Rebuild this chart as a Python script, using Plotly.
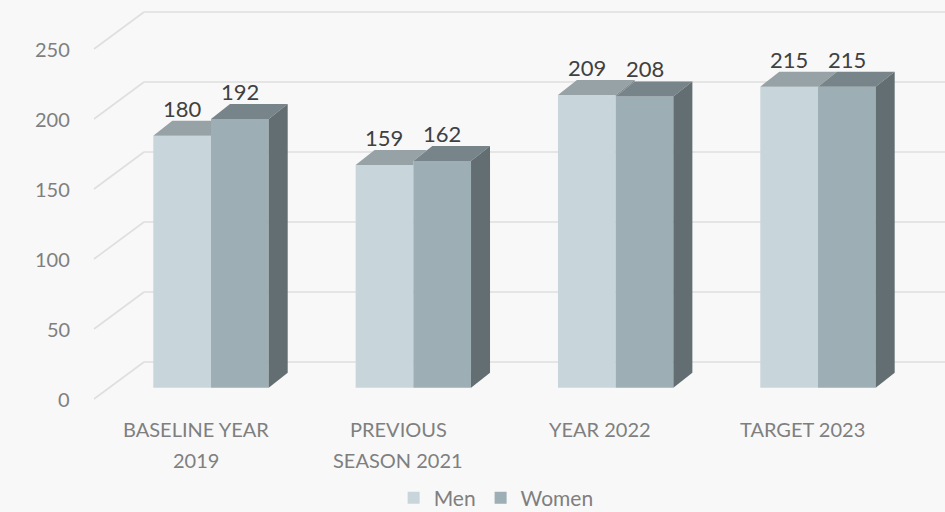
import plotly.graph_objects as go

# ---------------- data ----------------
categories = ["BASELINE YEAR<br>2019", "PREVIOUS<br>SEASON 2021", "YEAR 2022", "TARGET 2023"]
series_names = ["Men", "Women"]
men = [180, 159, 209, 215]
women = [192, 162, 208, 215]
y_ticks = [0, 50, 100, 150, 200, 250]

# ---------------- geometry / style ----------------
W, H = 945, 512
CAT_PX = 202.33      # pixels per category step
UNIT_PX = 1.4        # pixels per value unit
X0_PX = 211.0        # pixel x of category 0 (front-face centre)
Y0_PX = 387.7        # pixel y of value 0 (front face baseline)


def px_to_x(px):
    return (px - X0_PX) / CAT_PX


def py_to_y(py):
    return (Y0_PX - py) / UNIT_PX


BAR_W = 57.7 / CAT_PX
DX = 19.0 / CAT_PX
DY = 15.0 / UNIT_PX

BG = "#f8f8f8"
GRID = "#dfdfdf"
MEN_FRONT, MEN_TOP, MEN_SIDE = "#c8d6dc", "#97a2a6", "#7d888c"
WOM_FRONT, WOM_TOP, WOM_SIDE = "#9daeb4", "#778489", "#636e72"
AXIS_TXT = "#7f7f7f"
LABEL_TXT = "#404040"
FONT = "Lato"

x_idx = list(range(len(categories)))

fig = go.Figure()

# front faces as real bars
fig.add_trace(go.Bar(x=x_idx, y=men, name=series_names[0], width=BAR_W, offset=-BAR_W,
                     marker=dict(color=MEN_FRONT, line=dict(width=0)), hoverinfo="y+name"))
fig.add_trace(go.Bar(x=x_idx, y=women, name=series_names[1], width=BAR_W, offset=0,
                     marker=dict(color=WOM_FRONT, line=dict(width=0)), hoverinfo="y+name"))


def poly(xs, ys, color):
    fig.add_trace(go.Scatter(x=xs + [xs[0]], y=ys + [ys[0]], mode="lines", fill="toself",
                             fillcolor=color, line=dict(width=0, color=color),
                             showlegend=False, hoverinfo="skip"))


for i, (m, w) in enumerate(zip(men, women)):
    L, M, R = i - BAR_W, i, i + BAR_W
    # Men top face (clipped where the Women bar hides it)
    if w >= m + DY:
        poly([L, M, M, L + DX], [m, m, m + DY, m + DY], MEN_TOP)
    elif w > m:
        xi = M + DX * (m + DY - w) / DY
        poly([L, M, M, xi, L + DX], [m, m, w, m + DY, m + DY], MEN_TOP)
    else:
        poly([L, M, M + DX, L + DX], [m, m, m + DY, m + DY], MEN_TOP)
        if m > w:
            poly([M, M, M + DX, M + DX], [w, m, m + DY, w + DY], MEN_SIDE)
    # Women top + side
    poly([M, R, R + DX, M + DX], [w, w, w + DY, w + DY], WOM_TOP)
    poly([R, R, R + DX, R + DX], [0, w, w + DY, DY], WOM_SIDE)

annotations = []
shapes = []

# wall gridlines + value-axis labels
gx_front, gx_back = px_to_x(94), px_to_x(144)
gy_front, gy_back = py_to_y(399), py_to_y(362)
x_end = px_to_x(W) + 0.2
for v in y_ticks:
    shapes.append(dict(type="line", x0=gx_front, y0=gy_front + v, x1=gx_back, y1=gy_back + v,
                       line=dict(color=GRID, width=1.6), layer="below"))
    shapes.append(dict(type="line", x0=gx_back, y0=gy_back + v, x1=x_end, y1=gy_back + v,
                       line=dict(color=GRID, width=1.6), layer="below"))
    annotations.append(dict(x=px_to_x(72), y=gy_front + v, text=str(v), showarrow=False,
                            xanchor="right", yanchor="middle",
                            font=dict(family=FONT, size=20, color=AXIS_TXT)))

# category labels (one annotation per line)
cat_dx = 15.3 / CAT_PX
for i, c in enumerate(categories):
    for k, line in enumerate(c.split("<br>")):
        annotations.append(dict(x=i - cat_dx, y=py_to_y(429 + 31 * k), text=line, showarrow=False,
                                xanchor="center", yanchor="middle",
                                font=dict(family=FONT, size=20, color=AXIS_TXT)))

# data labels
lab_dy = DY + 9.0
for i, (m, w) in enumerate(zip(men, women)):
    annotations.append(dict(x=i - BAR_W / 2, y=m + lab_dy, text=str(m), showarrow=False,
                            xanchor="center", yanchor="middle",
                            font=dict(family=FONT, size=22, color=LABEL_TXT)))
    annotations.append(dict(x=i + BAR_W / 2, y=w + lab_dy, text=str(w), showarrow=False,
                            xanchor="center", yanchor="middle",
                            font=dict(family=FONT, size=22, color=LABEL_TXT)))

fig.update_layout(
    width=W, height=H,
    margin=dict(l=0, r=0, t=0, b=0, autoexpand=False),
    paper_bgcolor=BG, plot_bgcolor=BG,
    barmode="overlay",
    showlegend=True,
    legend=dict(orientation="h", x=0.525, xanchor="center", y=1 - 498 / H, yanchor="middle",
                font=dict(family=FONT, size=21, color=AXIS_TXT), bgcolor="rgba(0,0,0,0)",
                traceorder="normal", itemwidth=30),
    xaxis=dict(range=[px_to_x(0), px_to_x(W)], visible=False, fixedrange=True),
    yaxis=dict(range=[py_to_y(H), py_to_y(0)], visible=False, fixedrange=True),
    shapes=shapes,
    annotations=annotations,
    font=dict(family=FONT),
)

fig.write_html("out.html", config={"displayModeBar": False},
               post_script="document.body.style.margin='0';document.body.style.overflow='hidden';")
